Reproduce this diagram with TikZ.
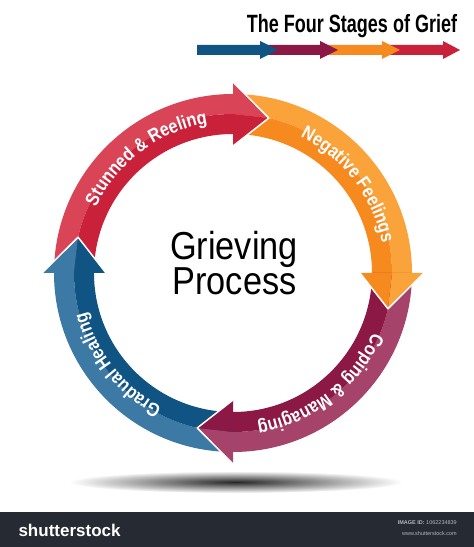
\documentclass[tikz,border=0pt]{standalone}
\usepackage{fontspec}
\usepackage{tikz}
\usetikzlibrary{decorations.text}
\setmainfont{Liberation Sans}
\newfontfamily\arcfont{Liberation Sans}[FakeStretch=0.86]
\newfontfamily\headfont{Liberation Sans}[FakeStretch=0.72]
\newfontfamily\middlefont{Liberation Sans}[FakeStretch=0.88]
\newcommand{\arctext}{\arcfont\fontsize{19pt}{19pt}\selectfont\bfseries}

\definecolor{redlite}{HTML}{D94457}
\definecolor{reddark}{HTML}{C9213A}
\definecolor{orangelite}{HTML}{F9A33A}
\definecolor{orangedark}{HTML}{F78A1E}
\definecolor{magentalite}{HTML}{A6436B}
\definecolor{magentadark}{HTML}{8C1846}
\definecolor{bluelite}{HTML}{3D79A5}
\definecolor{bluedark}{HTML}{0F5483}
\definecolor{barcolor}{HTML}{262A33}
\definecolor{bargray}{HTML}{B4B7BD}

\tikzset{
    arclabel/.style = {decorate, decoration = {text along path, text align = center, text color = white, text = {#1}}},
    headline/.style = {draw = white, line width = 1.5pt, line join = round}
}

\begin{document}
\begin{tikzpicture}[x = 1pt, y = 1pt]
    \useasboundingbox (0,0) rectangle (474,547);
    % title and legend
    \node[anchor = base] (heading) at (352,514) {\headfont\fontsize{25pt}{25pt}\selectfont\bfseries The Four Stages of Grief};
    \fill[reddark] (382,492) -- (443,492) -- (443,488) -- (460,497) -- (443,506) -- (443,502) -- (382,502) -- cycle;
    \fill[orangedark] (320,492) -- (382,492) -- (382,488) -- (400,497) -- (382,506) -- (382,502) -- (320,502) -- cycle;
    \fill[magentadark] (260,492) -- (320,492) -- (320,488) -- (338,497) -- (320,506) -- (320,502) -- (260,502) -- cycle;
    \fill[bluedark] (197,492) -- (260,492) -- (260,488) -- (278,497) -- (260,506) -- (260,502) -- (197,502) -- cycle;
    % shadow
    \shade[inner color = black!85, outer color = white] (236,65) ellipse [x radius = 167, y radius = 11];
    % ring of arrows
    \begin{scope} [shift = {(233,274)}]
        \foreach \s/\h/\lite/\dark in {180/90/redlite/reddark, 90/0/orangelite/orangedark, 0/-90/magentalite/magentadark, -90/-180/bluelite/bluedark} {
            \fill[\lite] (\s:179pt) arc [start angle = \s, end angle = \h, radius = 179pt] -- (\h:159pt) arc [start angle = \h, end angle = \s, radius = 159pt] -- cycle;
            \fill[\dark] (\s:159pt) arc [start angle = \s, end angle = \h, radius = 159pt] -- (\h:139pt) arc [start angle = \h, end angle = \s, radius = 139pt] -- cycle;
        }
        \foreach \h/\t/\lite/\dark in {90/77/redlite/reddark, 0/-13/orangelite/orangedark, -90/-103/magentalite/magentadark, -180/-193/bluelite/bluedark} {
            \fill[\lite] (\h:191pt) -- (\t:159pt) -- (\h:159pt) -- cycle;
            \fill[\dark] (\h:159pt) -- (\t:159pt) -- (\h:127pt) -- cycle;
            \draw[headline] (\h:191pt) -- (\t:159pt) -- (\h:127pt);
        }
        \path[arclabel = {|\arctext|Stunned {\&} Reeling}] (162:152pt) arc [start angle = 162, end angle = 92, radius = 152pt];
        \path[arclabel = {|\arctext|Negative Feelings}] (72.5:152pt) arc [start angle = 72.5, end angle = 2.5, radius = 152pt];
        \path[arclabel = {|\arctext|Coping {\&} Managing}] (-17:152pt) arc [start angle = -17, end angle = -87, radius = 152pt];
        \path[arclabel = {|\arctext|Gradual Healing}] (-106.5:152pt) arc [start angle = -106.5, end angle = -176.5, radius = 152pt];
    \end{scope}
    % centre text
    \node[anchor = base] (grieving) at (234,287) {\middlefont\fontsize{39pt}{39pt}\selectfont Grieving};
    \node[anchor = base] (process) at (234.5,252) {\middlefont\fontsize{39pt}{39pt}\selectfont Process};
    % bottom bar
    \fill[barcolor] (0,0) rectangle (474,35);
    \node[anchor = west, text = white] (brand) at (15,17) {\fontsize{17pt}{17pt}\selectfont\bfseries shutterstock};
    \node[anchor = base east, text = bargray, inner sep = 0pt] (imageid) at (457,22) {\fontsize{5.5pt}{5.5pt}\selectfont\textbf{IMAGE ID:} 1062234839};
    \node[anchor = base east, text = bargray, inner sep = 0pt] (website) at (457,12) {\fontsize{5.5pt}{5.5pt}\selectfont www.shutterstock.com};
\end{tikzpicture}
\end{document}
